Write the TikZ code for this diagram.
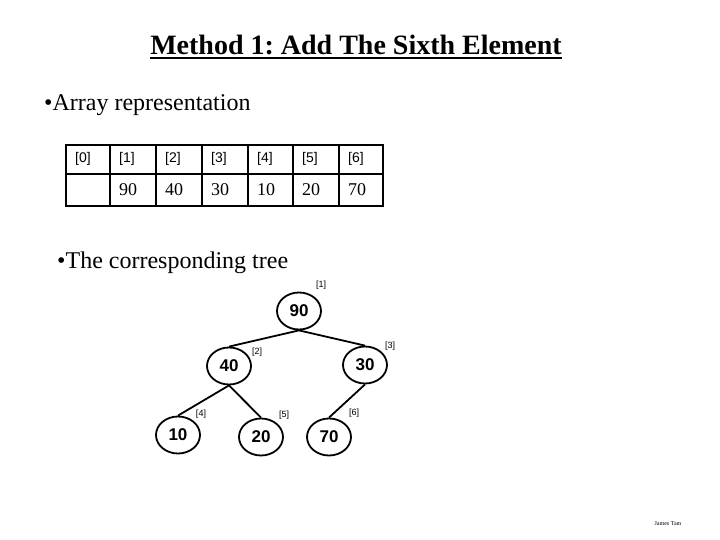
\documentclass[tikz,border=0pt]{standalone}
\usepackage{fontspec}
\setmainfont{Liberation Serif}
\newfontfamily\arialf{Liberation Sans}
\usetikzlibrary{shapes.geometric}
\begin{document}
\begin{tikzpicture}[x=1pt,y=-1pt,
  heapnode/.style={draw,line width=1.8pt,ellipse,minimum width=44pt,minimum height=37pt,inner sep=0pt,font=\arialf\bfseries\fontsize{17}{17}\selectfont},
  idxlabel/.style={font=\arialf\fontsize{9}{9}\selectfont,inner sep=0pt},
  edge/.style={line width=1.8pt},
  cellidx/.style={font=\arialf\fontsize{14}{14}\selectfont,anchor=west,inner sep=0pt},
  cellval/.style={font=\fontsize{18}{18}\selectfont,anchor=west,inner sep=0pt},
  bullettext/.style={font=\fontsize{24}{24}\selectfont,anchor=west,inner sep=0pt}]
\useasboundingbox (0,0) rectangle (720,540);
\fill[white] (0,0) rectangle (720,540);
% title
\node[font=\bfseries\fontsize{28}{28}\selectfont,inner sep=0pt] (title) at (356,45) {\frenchspacing Method 1: Add The Sixth Element};
\draw[line width=1.6pt] ([yshift=-3pt]title.south west) -- ([yshift=-3pt]title.south east);
\node[bullettext] (b1) at (44,105) {\textbullet Array representation};
% table
\draw[line width=2.6pt] (66,145) rectangle (383,206);
\draw[line width=2.6pt] (66,174) -- (383,174);
\foreach \x in {110,156,202,248,293,339} {\draw[line width=2.6pt] (\x,145) -- (\x,206);}
\foreach \i/\x in {0/66,1/110,2/156,3/202,4/248,5/293,6/339} {\node[cellidx] (i\i) at (\x+9,159) {[\i]};}
\foreach \v/\x in {90/110,40/156,30/202,10/248,20/293,70/339} {\node[cellval] (v\v) at (\x+9,190) {\v};}
\node[bullettext] (b2) at (57,263) {\textbullet The corresponding tree};
% tree
\node[heapnode] (n1) at (299,311) {90};
\node[heapnode] (n2) at (229,366) {40};
\node[heapnode] (n3) at (365,365) {30};
\node[heapnode] (n4) at (178,435) {10};
\node[heapnode] (n5) at (261,437) {20};
\node[heapnode] (n6) at (329,437) {70};
\draw[edge] (n1.south) -- (n2.north);
\draw[edge] (n1.south) -- (n3.north);
\draw[edge] (n2.south) -- (n4.north);
\draw[edge] (n2.south) -- (n5.north);
\draw[edge] (n3.south) -- (n6.north);
\node[idxlabel] (l1) at (321,285) {[1]};
\node[idxlabel] (l2) at (257,352) {[2]};
\node[idxlabel] (l3) at (390,346) {[3]};
\node[idxlabel] (l4) at (201,414) {[4]};
\node[idxlabel] (l5) at (284,415) {[5]};
\node[idxlabel] (l6) at (354,413) {[6]};
\node[font=\fontsize{6}{6}\selectfont,inner sep=0pt] (auth) at (668,524) {James Tam};
\end{tikzpicture}
\end{document}
